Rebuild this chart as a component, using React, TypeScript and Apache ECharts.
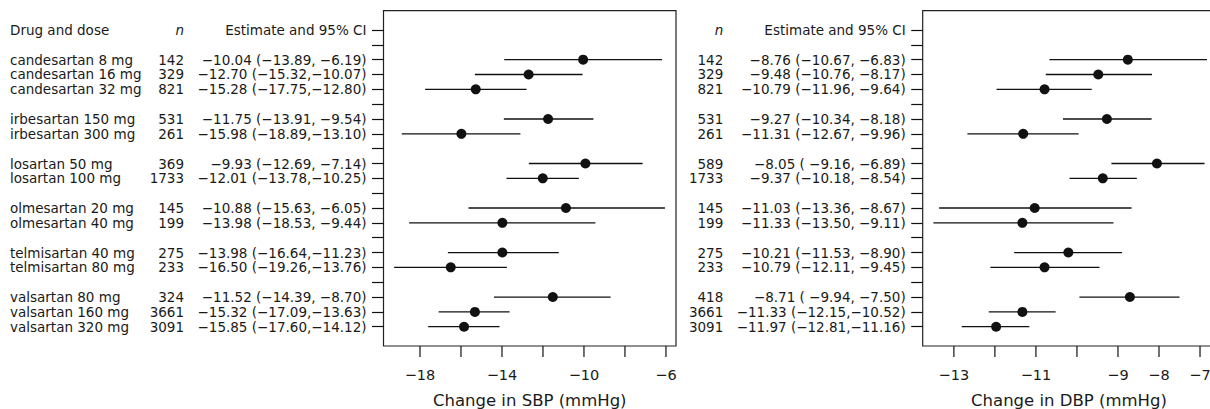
import React, { useEffect, useRef } from "react";
import * as echarts from "echarts";

// ---------- data ----------
const drugs = [
  "candesartan 8 mg", "candesartan 16 mg", "candesartan 32 mg",
  "irbesartan 150 mg", "irbesartan 300 mg",
  "losartan 50 mg", "losartan 100 mg",
  "olmesartan 20 mg", "olmesartan 40 mg",
  "telmisartan 40 mg", "telmisartan 80 mg",
  "valsartan 80 mg", "valsartan 160 mg", "valsartan 320 mg",
];
// row on the forest plot (0 = header, gaps between drugs)
const rows = [2, 3, 4, 6, 7, 9, 10, 12, 13, 15, 16, 18, 19, 20];

const sbpN = [142, 329, 821, 531, 261, 369, 1733, 145, 199, 275, 233, 324, 3661, 3091];
const sbpEst = [-10.04, -12.70, -15.28, -11.75, -15.98, -9.93, -12.01, -10.88, -13.98, -13.98, -16.50, -11.52, -15.32, -15.85];
const sbpLo = [-13.89, -15.32, -17.75, -13.91, -18.89, -12.69, -13.78, -15.63, -18.53, -16.64, -19.26, -14.39, -17.09, -17.60];
const sbpHi = [-6.19, -10.07, -12.80, -9.54, -13.10, -7.14, -10.25, -6.05, -9.44, -11.23, -13.76, -8.70, -13.63, -14.12];

const dbpN = [142, 329, 821, 531, 261, 589, 1733, 145, 199, 275, 233, 418, 3661, 3091];
const dbpEst = [-8.76, -9.48, -10.79, -9.27, -11.31, -8.05, -9.37, -11.03, -11.33, -10.21, -10.79, -8.71, -11.33, -11.97];
const dbpLo = [-10.67, -10.76, -11.96, -10.34, -12.67, -9.16, -10.18, -13.36, -13.50, -11.53, -12.11, -9.94, -12.15, -12.81];
const dbpHi = [-6.83, -8.17, -9.64, -8.18, -9.96, -6.89, -8.54, -8.67, -9.11, -8.90, -9.45, -7.50, -10.52, -11.16];

const sbpTicks = [-18, -16, -14, -12, -10, -8, -6];
const sbpLabels = [-18, -14, -10, -6];
const dbpTicks = [-13, -12, -11, -10, -9, -8, -7];
const dbpLabels = [-13, -11, -9, -8, -7];

const headerCI = "Estimate and 95% CI";
const headerDrug = "Drug and dose";
const headerN = "n";
const sbpTitle = "Change in SBP (mmHg)";
const dbpTitle = "Change in DBP (mmHg)";

// ---------- helpers ----------
const FONT = "DejaVu Sans";
const TXT = "#1a1a1a";
const INK = "#111";
const allRows = Array.from({ length: 21 }, (_, i) => i);

const m = (s: string) => s.replace(/-/g, "\u2212");
const f2 = (v: number) => m(v.toFixed(2));
const pad6 = (v: number) => {
  const s = f2(v);
  return s.length < 6 ? " ".repeat(6 - s.length) + s : s;
};
const ciText = (e: number, l: number, h: number) => `${f2(e)} (${pad6(l)},${pad6(h)})`;

function buildMap(vals: string[], header: string) {
  const map: Record<number, string> = { 0: header };
  rows.forEach((r, i) => (map[r] = vals[i]));
  return map;
}

const GRID_TOP = 10.7;
const GRID_H = 335.3;
const GRID_W = 292.5;
const YMIN = -1.3;
const YMAX = 21.3;
const XTICK_LEN = 11;

function mainY(gridIndex: number, map: Record<number, string>) {
  return {
    type: "value",
    gridIndex,
    inverse: true,
    min: YMIN,
    max: YMAX,
    position: "left",
    splitLine: { show: false },
    axisLine: { show: false, onZero: false },
    axisTick: { show: true, length: 11.5, customValues: allRows, lineStyle: { color: INK, width: 1.2 } },
    axisLabel: {
      customValues: allRows,
      formatter: (v: number) => map[Math.round(v)] ?? "",
      margin: 17,
      fontFamily: FONT,
      fontSize: 13.5,
      color: TXT,
    },
  };
}

function textY(gridIndex: number, map: Record<number, string>, offset: number, align: string) {
  return {
    type: "value",
    gridIndex,
    inverse: true,
    min: YMIN,
    max: YMAX,
    position: "left",
    offset,
    splitLine: { show: false },
    axisLine: { show: false, onZero: false },
    axisTick: { show: false },
    axisLabel: {
      customValues: [0, ...rows],
      formatter: (v: number) => {
        const s = map[Math.round(v)] ?? "";
        return s === headerN ? "{i|n}" : s;
      },
      margin: 0,
      align,
      fontFamily: FONT,
      fontSize: 13.5,
      color: TXT,
      rich: { i: { fontStyle: "italic", fontFamily: FONT, fontSize: 13.5, color: TXT } },
    },
  };
}

function xAx(gridIndex: number, min: number, max: number, labels: number[], name: string) {
  return {
    type: "value",
    gridIndex,
    min,
    max,
    position: "bottom",
    splitLine: { show: false },
    axisLine: { show: false, onZero: false },
    axisTick: { show: false },
    axisLabel: {
      customValues: labels,
      formatter: (v: number) => m(String(v)),
      margin: 21,
      fontFamily: FONT,
      fontSize: 14.5,
      color: TXT,
    },
    name,
    nameLocation: "middle",
    nameGap: 45.5,
    nameTextStyle: { fontFamily: FONT, fontSize: 16.5, color: TXT },
  };
}

// x-axis tick marks, placed through the axis scale at the bottom edge of the plot
const tickSeries = (idx: number, ticks: number[]) => ({
  type: "custom",
  xAxisIndex: idx,
  yAxisIndex: idx === 0 ? 0 : 3,
  clip: false,
  data: ticks.map((v) => [v, YMAX]),
  encode: { x: 0, y: 1 },
  renderItem: (_p: any, api: any) => {
    const c = api.coord([api.value(0), api.value(1)]);
    return {
      type: "line",
      shape: { x1: c[0], y1: c[1], x2: c[0], y2: c[1] + XTICK_LEN },
      style: { stroke: INK, lineWidth: 1.2 },
    };
  },
  silent: true,
});

const ciSeries = (idx: number, lo: number[], hi: number[]) => ({
  type: "custom",
  xAxisIndex: idx,
  yAxisIndex: idx === 0 ? 0 : 3,
  data: rows.map((r, i) => [lo[i], hi[i], r]),
  encode: { x: [0, 1], y: 2 },
  renderItem: (_p: any, api: any) => {
    const a = api.coord([api.value(0), api.value(2)]);
    const b = api.coord([api.value(1), api.value(2)]);
    return {
      type: "line",
      shape: { x1: a[0], y1: a[1], x2: b[0], y2: b[1] },
      style: { stroke: INK, lineWidth: 1.3 },
    };
  },
  silent: true,
});

const dotSeries = (idx: number, est: number[]) => ({
  type: "scatter",
  xAxisIndex: idx,
  yAxisIndex: idx === 0 ? 0 : 3,
  data: rows.map((r, i) => [est[i], r]),
  symbol: "circle",
  symbolSize: 10,
  itemStyle: { color: INK, opacity: 1 },
  silent: true,
  z: 5,
});

export default function App() {
  const ref = useRef<HTMLDivElement>(null);
  useEffect(() => {
    document.body.style.margin = "0";
    if (!ref.current) return;
    const chart = echarts.init(ref.current, null, { renderer: "svg" });

    const sbpMap = buildMap(rows.map((_, i) => ciText(sbpEst[i], sbpLo[i], sbpHi[i])), headerCI);
    const dbpMap = buildMap(rows.map((_, i) => ciText(dbpEst[i], dbpLo[i], dbpHi[i])), headerCI);
    const drugMap = buildMap(drugs, headerDrug);
    const sbpNMap = buildMap(sbpN.map(String), headerN);
    const dbpNMap = buildMap(dbpN.map(String), headerN);

    const gridStyle = {
      show: true,
      borderColor: "#222",
      borderWidth: 1.2,
      backgroundColor: "transparent",
      containLabel: false,
      outerBoundsMode: "none",
    };
    chart.setOption({
      animation: false,
      backgroundColor: "#fff",
      grid: [
        { left: 383.5, top: GRID_TOP, width: GRID_W, height: GRID_H, ...gridStyle },
        { left: 922.7, top: GRID_TOP, width: GRID_W, height: GRID_H, ...gridStyle },
      ],
      xAxis: [
        xAx(0, -19.78, -5.51, sbpLabels, sbpTitle),
        xAx(1, -13.76, -6.63, dbpLabels, dbpTitle),
      ],
      yAxis: [
        mainY(0, sbpMap),
        textY(0, sbpNMap, 199.5, "right"),
        textY(0, drugMap, 373.5, "left"),
        mainY(1, dbpMap),
        textY(1, dbpNMap, 199.4, "right"),
      ],
      series: [
        tickSeries(0, sbpTicks),
        ciSeries(0, sbpLo, sbpHi),
        dotSeries(0, sbpEst),
        tickSeries(1, dbpTicks),
        ciSeries(1, dbpLo, dbpHi),
        dotSeries(1, dbpEst),
      ],
    });
    return () => chart.dispose();
  }, []);
  return <div ref={ref} style={{ width: 1210, height: 409 }} />;
}
